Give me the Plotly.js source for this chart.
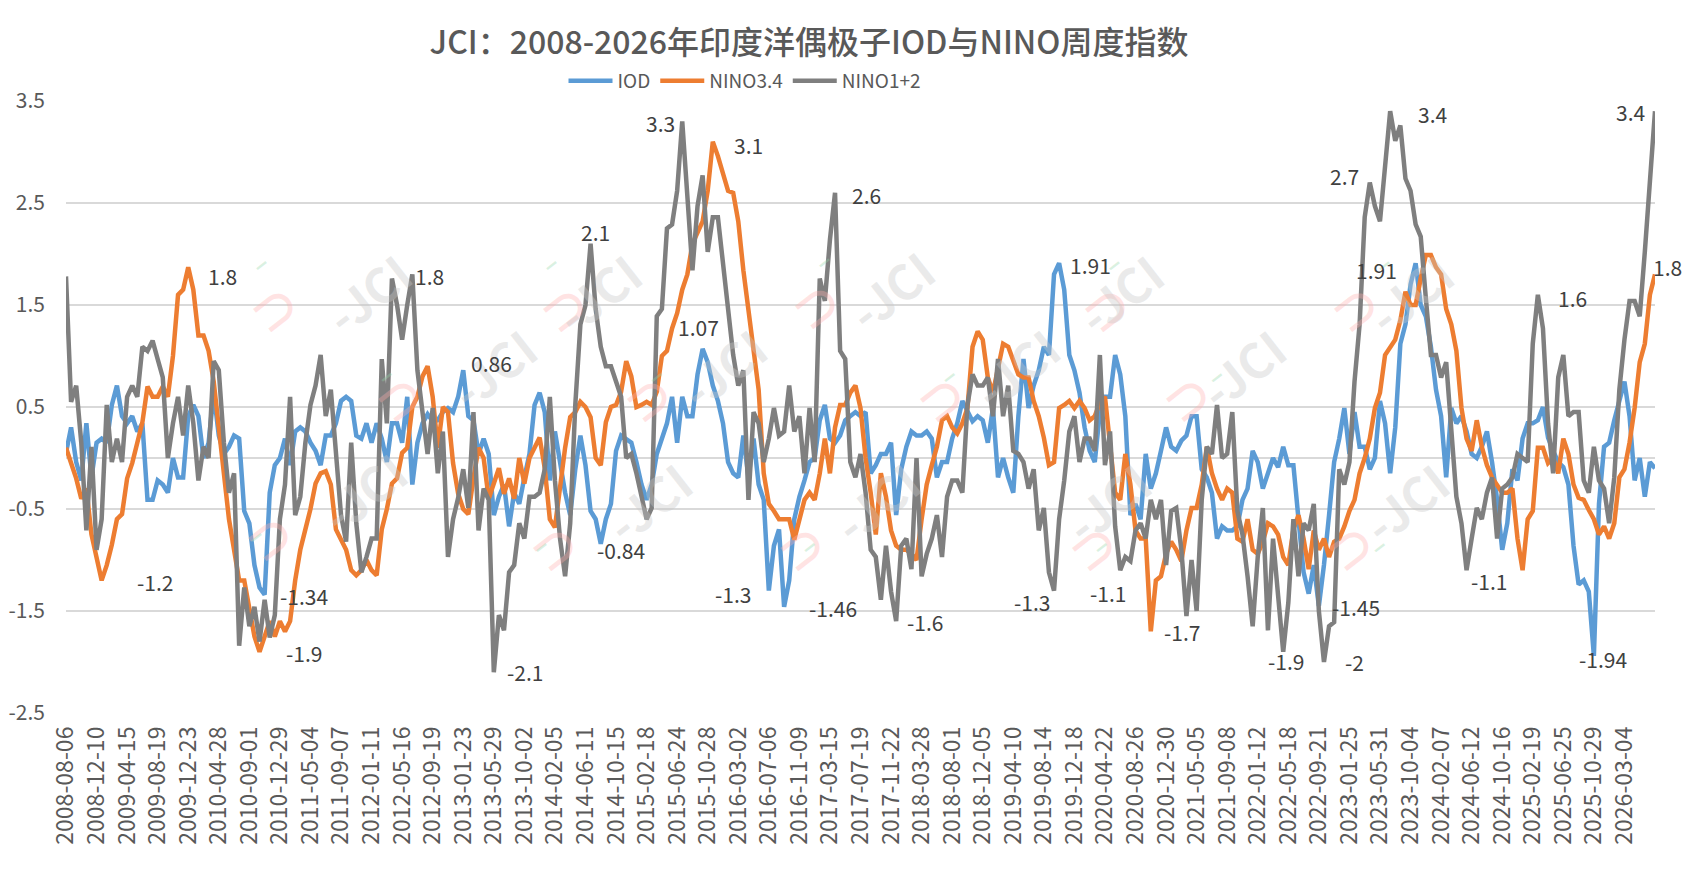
<!DOCTYPE html>
<html>
<head>
<meta charset="utf-8">
<script src="https://cdn.plot.ly/plotly-3.0.1.min.js"></script>
<style>
  html, body { margin: 0; padding: 0; background: #fff; }
  #chart { width: 1691px; height: 873px; }
</style>
</head>
<body>
<div id="chart"></div>
<script>
// category labels shown under the axis, one every 18 weeks
const tickLabels = [
  '2008-08-06','2008-12-10','2009-04-15','2009-08-19','2009-12-23','2010-04-28','2010-09-01','2010-12-29',
  '2011-05-04','2011-09-07','2012-01-11','2012-05-16','2012-09-19','2013-01-23','2013-05-29','2013-10-02',
  '2014-02-05','2014-06-11','2014-10-15','2015-02-18','2015-06-24','2015-10-28','2016-03-02','2016-07-06',
  '2016-11-09','2017-03-15','2017-07-19','2017-11-22','2018-03-28','2018-08-01','2018-12-05','2019-04-10',
  '2019-08-14','2019-12-18','2020-04-22','2020-08-26','2020-12-30','2021-05-05','2021-09-08','2022-01-12',
  '2022-05-18','2022-09-21','2023-01-25','2023-05-31','2023-10-04','2024-02-07','2024-06-12','2024-10-16',
  '2025-02-19','2025-06-25','2025-10-29','2026-03-04'
];
const yTicks = [-2.5, -1.5, -0.5, 0.5, 1.5, 2.5, 3.5];
const TICK_EVERY = 18;   // weeks between labels
const STEP = 3;          // weeks between the readings below

// values every 3 weeks
const iod = [
  0.05, 0.3, -0.04, -0.22, 0.34, -0.19, 0.15, 0.19, 0.15, 0.52, 0.71, 0.41,
  0.34, 0.41, 0.26, 0.34, -0.41, -0.41, -0.22, -0.26, -0.34, 0, -0.19, -0.19,
  0.41, 0.52, 0.41, 0, 0.15, 0.64, 0.22, 0.04, 0.11, 0.22, 0.19, -0.52,
  -0.64, -1.05, -1.27, -1.34, -0.34, -0.07, 0, 0.19, -0.07, 0.26, 0.3, 0.26,
  0.15, 0.07, -0.07, 0.22, 0.22, 0.34, 0.56, 0.6, 0.56, 0.22, 0.19, 0.34,
  0.15, 0.34, 0.19, -0.04, 0.34, 0.34, 0.15, 0.6, -0.26, 0.15, 0.34, 0.43,
  0.36, 0.37, 0.45, 0.49, 0.45, 0.6, 0.86, 0.41, 0.37, 0.04, 0.19, 0.04,
  -0.56, -0.38, -0.26, -0.67, -0.34, -0.45, -0.19, 0.04, 0.52, 0.64, 0.45, -0.22,
  0.26, -0.04, -0.34, -0.56, -0.11, 0.22, -0.07, -0.52, -0.6, -0.84, -0.6, -0.45,
  0.07, 0.22, 0.19, 0.15, -0.04, -0.26, -0.41, -0.26, 0.04, 0.19, 0.34, 0.6,
  0.15, 0.6, 0.41, 0.41, 0.82, 1.07, 0.94, 0.71, 0.56, 0.34, -0.04, -0.15,
  -0.19, 0.22, -0.19, 0.19, -0.26, -0.41, -1.3, -0.86, -0.7, -1.46, -1.2, -0.6,
  -0.38, -0.22, -0.04, 0, 0.37, 0.52, 0.19, 0.15, 0.22, 0.37, 0.41, 0.45,
  0.41, 0.45, -0.15, -0.07, 0.04, 0.04, 0.15, -0.56, -0.11, 0.11, 0.26, 0.22,
  0.22, 0.26, 0.19, -0.19, -0.04, -0.04, 0.19, 0.34, 0.56, 0.45, 0.36, 0.41,
  0.37, 0.15, 0.49, -0.19, 0, -0.19, -0.34, 0.41, 0.97, 0.49, 0.71, 0.86,
  1.09, 1.01, 1.8, 1.91, 1.65, 1.01, 0.86, 0.64, 0.3, 0.07, -0.04, 0.45,
  0.6, 0.6, 1.01, 0.82, 0.41, -0.56, -0.45, -0.6, 0.04, -0.3, -0.15, 0.07,
  0.3, 0.11, 0.07, 0.17, 0.22, 0.41, 0.41, -0.11, -0.19, -0.34, -0.79, -0.67,
  -0.71, -0.71, -0.67, -0.41, -0.3, 0.07, -0.04, -0.3, -0.15, 0, -0.09, 0.11,
  -0.07, -0.07, -0.6, -1.12, -1.33, -1.05, -1.45, -1.05, -0.56, -0.04, 0.19, 0.49,
  0.04, 0.45, 0.11, 0.11, -0.11, 0, 0.56, 0.34, -0.15, 0.3, 1.12, 1.31,
  1.7, 1.91, 1.5, 1.39, 1.09, 0.67, 0.41, -0.19, 0.49, 0.34, 0.41, 0.26,
  0.04, 0, 0.11, 0.26, -0.04, -0.41, -0.9, -0.64, -0.11, -0.22, 0.19, 0.34,
  0.34, 0.37, 0.5, 0.2, 0.07, -0.04, -0.09, -0.26, -0.86, -1.24, -1.2, -1.31,
  -1.94, -0.45, 0.11, 0.15, 0.37, 0.56, 0.75, 0.41, -0.22, 0, -0.38, -0.04,
  -0.1
];
const nino34 = [
  0.1, -0.05, -0.2, -0.4, -0.3, -0.75, -1.0, -1.2, -1.05, -0.85, -0.6, -0.55,
  -0.2, -0.05, 0.15, 0.35, 0.7, 0.6, 0.6, 0.7, 0.6, 1.0, 1.6, 1.65,
  1.87, 1.65, 1.2, 1.2, 1.05, 0.75, 0.3, -0.15, -0.6, -0.9, -1.2, -1.2,
  -1.5, -1.75, -1.9, -1.75, -1.6, -1.75, -1.6, -1.7, -1.6, -1.2, -0.9, -0.7,
  -0.5, -0.25, -0.15, -0.13, -0.26, -0.7, -0.8, -0.9, -1.1, -1.15, -1.1, -1.0,
  -1.1, -1.15, -0.7, -0.5, -0.25, -0.2, 0.05, 0.1, 0.5, 0.6, 0.8, 0.9,
  0.6, 0.1, 0.5, 0.45, -0.05, -0.35, -0.5, -0.55, -0.2, 0.1, 0, -0.4,
  -0.25, -0.1, -0.35, -0.2, -0.4, 0, -0.25, 0, 0.1, 0.2, -0.1, -0.6,
  -0.68, -0.26, 0.1, 0.4, 0.45, 0.55, 0.5, 0.4, 0, -0.07, 0.35, 0.5,
  0.52, 0.65, 0.95, 0.8, 0.5, 0.52, 0.55, 0.52, 0.65, 1.0, 1.05, 1.27,
  1.42, 1.65, 1.8, 2.1, 2.2, 2.32, 2.62, 3.1, 2.96, 2.8, 2.62, 2.6,
  2.32, 1.84, 1.46, 1.05, 0.67, -0.15, -0.45, -0.52, -0.6, -0.6, -0.6, -0.8,
  -0.6, -0.41, -0.34, -0.41, -0.15, 0.19, -0.15, 0.3, 0.52, 0.52, 0.64, 0.71,
  0.49, 0, -0.34, -0.75, -0.15, -0.38, -0.71, -0.86, -0.9, -0.9, -0.94, -1.0,
  -0.6, -0.26, -0.07, 0.11, 0.37, 0.41, 0.3, 0.24, 0.34, 0.49, 1.09, 1.24,
  1.16, 0.79, 0.64, 0.86, 1.12, 1.09, 0.94, 0.82, 0.79, 0.79, 0.56, 0.41,
  0.2, -0.07, -0.04, 0.49, 0.52, 0.56, 0.49, 0.56, 0.49, 0.37, 0.41, 0.54,
  0.6, 0.15, -0.34, -0.41, 0.04, -0.26, -0.71, -0.79, -0.79, -1.7, -1.2, -1.16,
  -0.94, -0.82, -0.9, -1.01, -0.71, -0.49, -0.49, -0.26, 0.11, -0.15, -0.3, -0.41,
  -0.3, -0.34, -0.79, -0.82, -0.6, -0.9, -0.94, -0.82, -0.64, -0.67, -0.75, -0.97,
  -1.05, -0.7, -0.56, -0.79, -1.09, -0.71, -0.9, -0.79, -0.97, -0.82, -0.79, -0.67,
  -0.52, -0.41, -0.15, 0, 0.19, 0.49, 0.64, 1.01, 1.09, 1.16, 1.35, 1.63,
  1.5, 1.5, 1.76, 1.99, 1.99, 1.87, 1.8, 1.46, 1.31, 1.05, 0.49, 0.19,
  0.07, 0.37, 0.11, -0.07, -0.19, -0.26, -0.34, -0.34, -0.3, -0.79, -1.1, -0.6,
  -0.52, 0.1, 0.1, -0.05, 0, -0.15, 0.19, 0.04, -0.26, -0.39, -0.41, -0.51,
  -0.6, -0.75, -0.67, -0.79, -0.64, -0.19, -0.11, 0.15, 0.49, 0.94, 1.12, 1.6,
  1.8
];
const nino12 = [
  1.78, 0.55, 0.71, 0.15, -0.71, 0.11, -0.9, -0.6, 0.52, -0.04, 0.19, -0.04,
  0.6, 0.71, 0.6, 1.09, 1.05, 1.15, 0.97, 0.79, 0, 0.34, 0.6, 0.22,
  0.71, 0.34, -0.22, 0.11, 0, 0.95, 0.86, 0.15, -0.34, -0.15, -1.84, -1.27,
  -1.65, -1.46, -1.8, -1.39, -1.76, -1.54, -0.6, -0.26, 0.6, -0.56, -0.38, 0.15,
  0.52, 0.71, 1.01, 0.41, 0.67, 0.07, -0.56, -0.82, 0.15, -0.64, -1.12, -0.97,
  -0.79, -0.79, 0.97, 0.34, 1.76, 1.5, 1.16, 1.5, 1.8, 0.86, 0.41, 0.04,
  0.49, -0.15, 0.26, -0.97, -0.6, -0.39, -0.11, -0.49, 0.45, -0.71, -0.3, -0.41,
  -2.1, -1.54, -1.69, -1.12, -1.05, -0.64, -0.79, -0.38, -0.38, -0.34, -0.11, 0.6,
  -0.22, -0.79, -1.16, -0.64, 0.52, 1.31, 1.5, 2.1, 1.46, 1.09, 0.9, 0.9,
  0.75, 0.6, 0, 0.04, -0.15, -0.38, -0.6, -0.49, 1.39, 1.46, 2.25, 2.29,
  2.62, 3.3, 2.59, 1.84, 2.47, 2.77, 2.02, 2.36, 2.36, 1.91, 1.46, 1.01,
  0.71, 0.86, -0.41, 0.45, 0.34, -0.04, 0.19, 0.49, 0.22, 0.26, 0.71, 0.26,
  0.41, -0.15, 0.49, -0.04, 1.76, 1.54, 2.14, 2.6, 1.05, 0.97, -0.04, -0.19,
  0.04, -0.34, -0.9, -0.97, -1.39, -0.86, -1.31, -1.6, -0.86, -0.79, -1.09, 0,
  -1.16, -0.94, -0.79, -0.56, -0.97, -0.38, -0.22, -0.22, -0.34, 0.52, 0.82, 0.71,
  0.71, 0.79, 0.41, 0.97, 0.41, 0.71, 0.07, 0.04, -0.04, -0.3, -0.11, -0.71,
  -0.49, -1.12, -1.3, -0.6, -0.22, 0.26, 0.41, -0.04, 0.19, 0.19, 0.07, 1.01,
  -0.07, 0.26, -0.67, -1.1, -0.97, -1.01, -0.71, -0.64, -0.79, -0.41, -0.6, -0.41,
  -1.05, -0.52, -0.49, -0.9, -1.55, -1.0, -1.5, -0.41, 0.11, 0.04, 0.52, 0,
  0.04, 0.45, -0.52, -0.75, -1.16, -1.65, -0.97, -0.49, -1.69, -0.79, -1.35, -1.9,
  -1.42, -0.6, -1.16, -0.64, -0.71, -0.45, -1.5, -2.0, -1.65, -1.61, -0.11, -0.26,
  -0.04, 0.75, 1.31, 2.36, 2.7, 2.47, 2.32, 2.81, 3.4, 3.11, 3.26, 2.74,
  2.62, 2.29, 2.17, 1.57, 1.01, 1.01, 0.79, 0.94, 0.34, -0.38, -0.64, -1.1,
  -0.79, -0.49, -0.6, -0.34, -0.19, -0.79, -0.3, -0.26, -0.19, 0.04, 0, -0.04,
  1.12, 1.6, 1.27, 0.34, -0.15, 0.79, 1.01, 0.41, 0.45, 0.45, -0.22, -0.34,
  0.11, -0.22, -0.3, -0.64, -0.19, 0.67, 1.16, 1.54, 1.54, 1.39, 2.02, 2.74,
  3.4
];

const weeks = iod.map((_, i) => i * STEP);
const series = {
  IOD:       { y: iod,    color: '#5b9bd5' },
  'NINO3.4': { y: nino34, color: '#ed7d31' },
  'NINO1+2': { y: nino12, color: '#7f7f7f' },
};

// data labels: text, series, week of the point, pixel offset of the text
const pointLabels = [
  ['1.8', 'NINO3.4', 72, 34, -9],   ['-1.2', 'NINO3.4', 21, 53, -2],
  ['-1.34', 'IOD', 117, 39, -1],    ['-1.9', 'NINO3.4', 114, 44, -1],
  ['1.8', 'NINO1+2', 204, 17, -2],  ['0.86', 'IOD', 234, 28, 7],
  ['-2.1', 'NINO1+2', 252, 31, 0],  ['2.1', 'NINO1+2', 309, 5, 12],
  ['3.3', 'NINO1+2', 363, -22, -2], ['3.1', 'NINO3.4', 381, 36, -3],
  ['1.07', 'IOD', 375, -4, 22],     ['-0.84', 'IOD', 315, 20, -6],
  ['-1.3', 'IOD', 414, -36, -3],    ['-1.46', 'IOD', 423, 49, -1],
  ['2.6', 'NINO1+2', 453, 31, -2],  ['-1.6', 'NINO1+2', 489, 29, -1],
  ['-1.3', 'NINO1+2', 582, -22, -11], ['1.91', 'IOD', 585, 31, -2],
  ['-1.1', 'NINO1+2', 621, -12, -23], ['-1.7', 'NINO3.4', 639, 31, -1],
  ['-1.9', 'NINO1+2', 717, 3, -9],  ['2.7', 'NINO1+2', 768, -25, 7],
  ['3.4', 'NINO1+2', 780, 42, -3],  ['1.91', 'IOD', 795, -39, -7],
  ['-1.45', 'IOD', 738, 37, -1],    ['-2', 'NINO1+2', 741, 31, 0],
  ['-1.1', 'NINO1+2', 825, 22, -11], ['1.6', 'NINO1+2', 867, 35, -3],
  ['3.4', 'NINO1+2', 936, -25, -1], ['1.8', 'NINO3.4', 936, 12, 7],
  ['-1.94', 'IOD', 900, 9, -3],
];

// faint JCI watermark, pixel spots on the page (centre of the letters)
const wmSpots = [
  [305, 235], [595, 235], [888, 232], [1178, 235], [1468, 235],
  [430, 368], [720, 368], [1013, 368], [1300, 368],
  [300, 550], [585, 560], [873, 560], [1165, 560], [1463, 560],
];

const W = 1691, H = 873;
const M = { l: 66, r: 36, t: 101, b: 160 };
const px = (x) => (x - M.l) / (W - M.l - M.r);
const py = (y) => (H - M.b - y) / (H - M.t - M.b);
const FONT = '"Noto Sans CJK SC", "Noto Sans", sans-serif';

const traces = Object.keys(series).map(name => ({
  x: weeks, y: series[name].y, name: name,
  type: 'scatter', mode: 'lines',
  line: { color: series[name].color, width: 4.5, shape: 'linear' },
  hoverinfo: 'skip'
}));

const annotations = [];
const wmText = (x, y, text, size, color) => ({
  xref: 'paper', yref: 'paper', x: px(x), y: py(y), text: text, showarrow: false,
  textangle: -38, font: { family: FONT, size: size, color: color, weight: 'bold' }
});
wmSpots.forEach(([x, y]) => {
  annotations.push(wmText(x - 72, y + 30, '⊃', 46, 'rgba(255,175,175,0.35)'));
  annotations.push(wmText(x - 66, y + 6, '–', 26, 'rgba(150,215,170,0.35)'));
  annotations.push(wmText(x + 2, y, '-JCI', 48, 'rgba(200,200,200,0.38)'));
});
pointLabels.forEach(([text, key, wk, dx, dy]) => {
  annotations.push({ x: wk, y: series[key].y[wk / STEP], text: text, showarrow: false,
    xshift: dx, yshift: dy, font: { family: FONT, size: 21, color: '#404040' } });
});

const layout = {
  width: W, height: H,
  margin: { l: M.l, r: M.r, t: M.t, b: M.b },
  paper_bgcolor: '#fff', plot_bgcolor: '#fff',
  font: { family: FONT, color: '#595959', size: 20 },
  title: { text: 'JCI：2008-2026年印度洋偶极子IOD与NINO周度指数', x: 809 / W, xanchor: 'center',
    y: 1 - 43 / H, yanchor: 'middle', font: { family: FONT, size: 32, color: '#595959', weight: 500 } },
  showlegend: true,
  legend: { orientation: 'h', x: px(745), xanchor: 'center', y: py(81), yanchor: 'middle',
    font: { family: FONT, size: 19, color: '#595959' }, itemwidth: 44, bgcolor: 'rgba(0,0,0,0)' },
  xaxis: { type: 'linear', range: [0, weeks[weeks.length - 1]], showgrid: false, zeroline: false,
    showline: false, ticks: '',
    tickmode: 'array', tickvals: tickLabels.map((_, i) => i * TICK_EVERY), ticktext: tickLabels,
    tickangle: -90, tickfont: { size: 23, color: '#595959' }, ticklabelstandoff: 8 },
  yaxis: { range: [-2.5, 3.5], tickmode: 'array', tickvals: yTicks,
    ticktext: yTicks.map(v => v.toFixed(1)), showgrid: true,
    gridcolor: '#d9d9d9', gridwidth: 1.5, zeroline: true, zerolinecolor: '#d9d9d9', zerolinewidth: 1.5,
    showline: false, ticks: '', tickfont: { size: 21, color: '#595959' }, ticklabelstandoff: 20 },
  annotations: annotations,
};

Plotly.newPlot('chart', traces, layout, { staticPlot: true, displayModeBar: false });
</script>
</body>
</html>
